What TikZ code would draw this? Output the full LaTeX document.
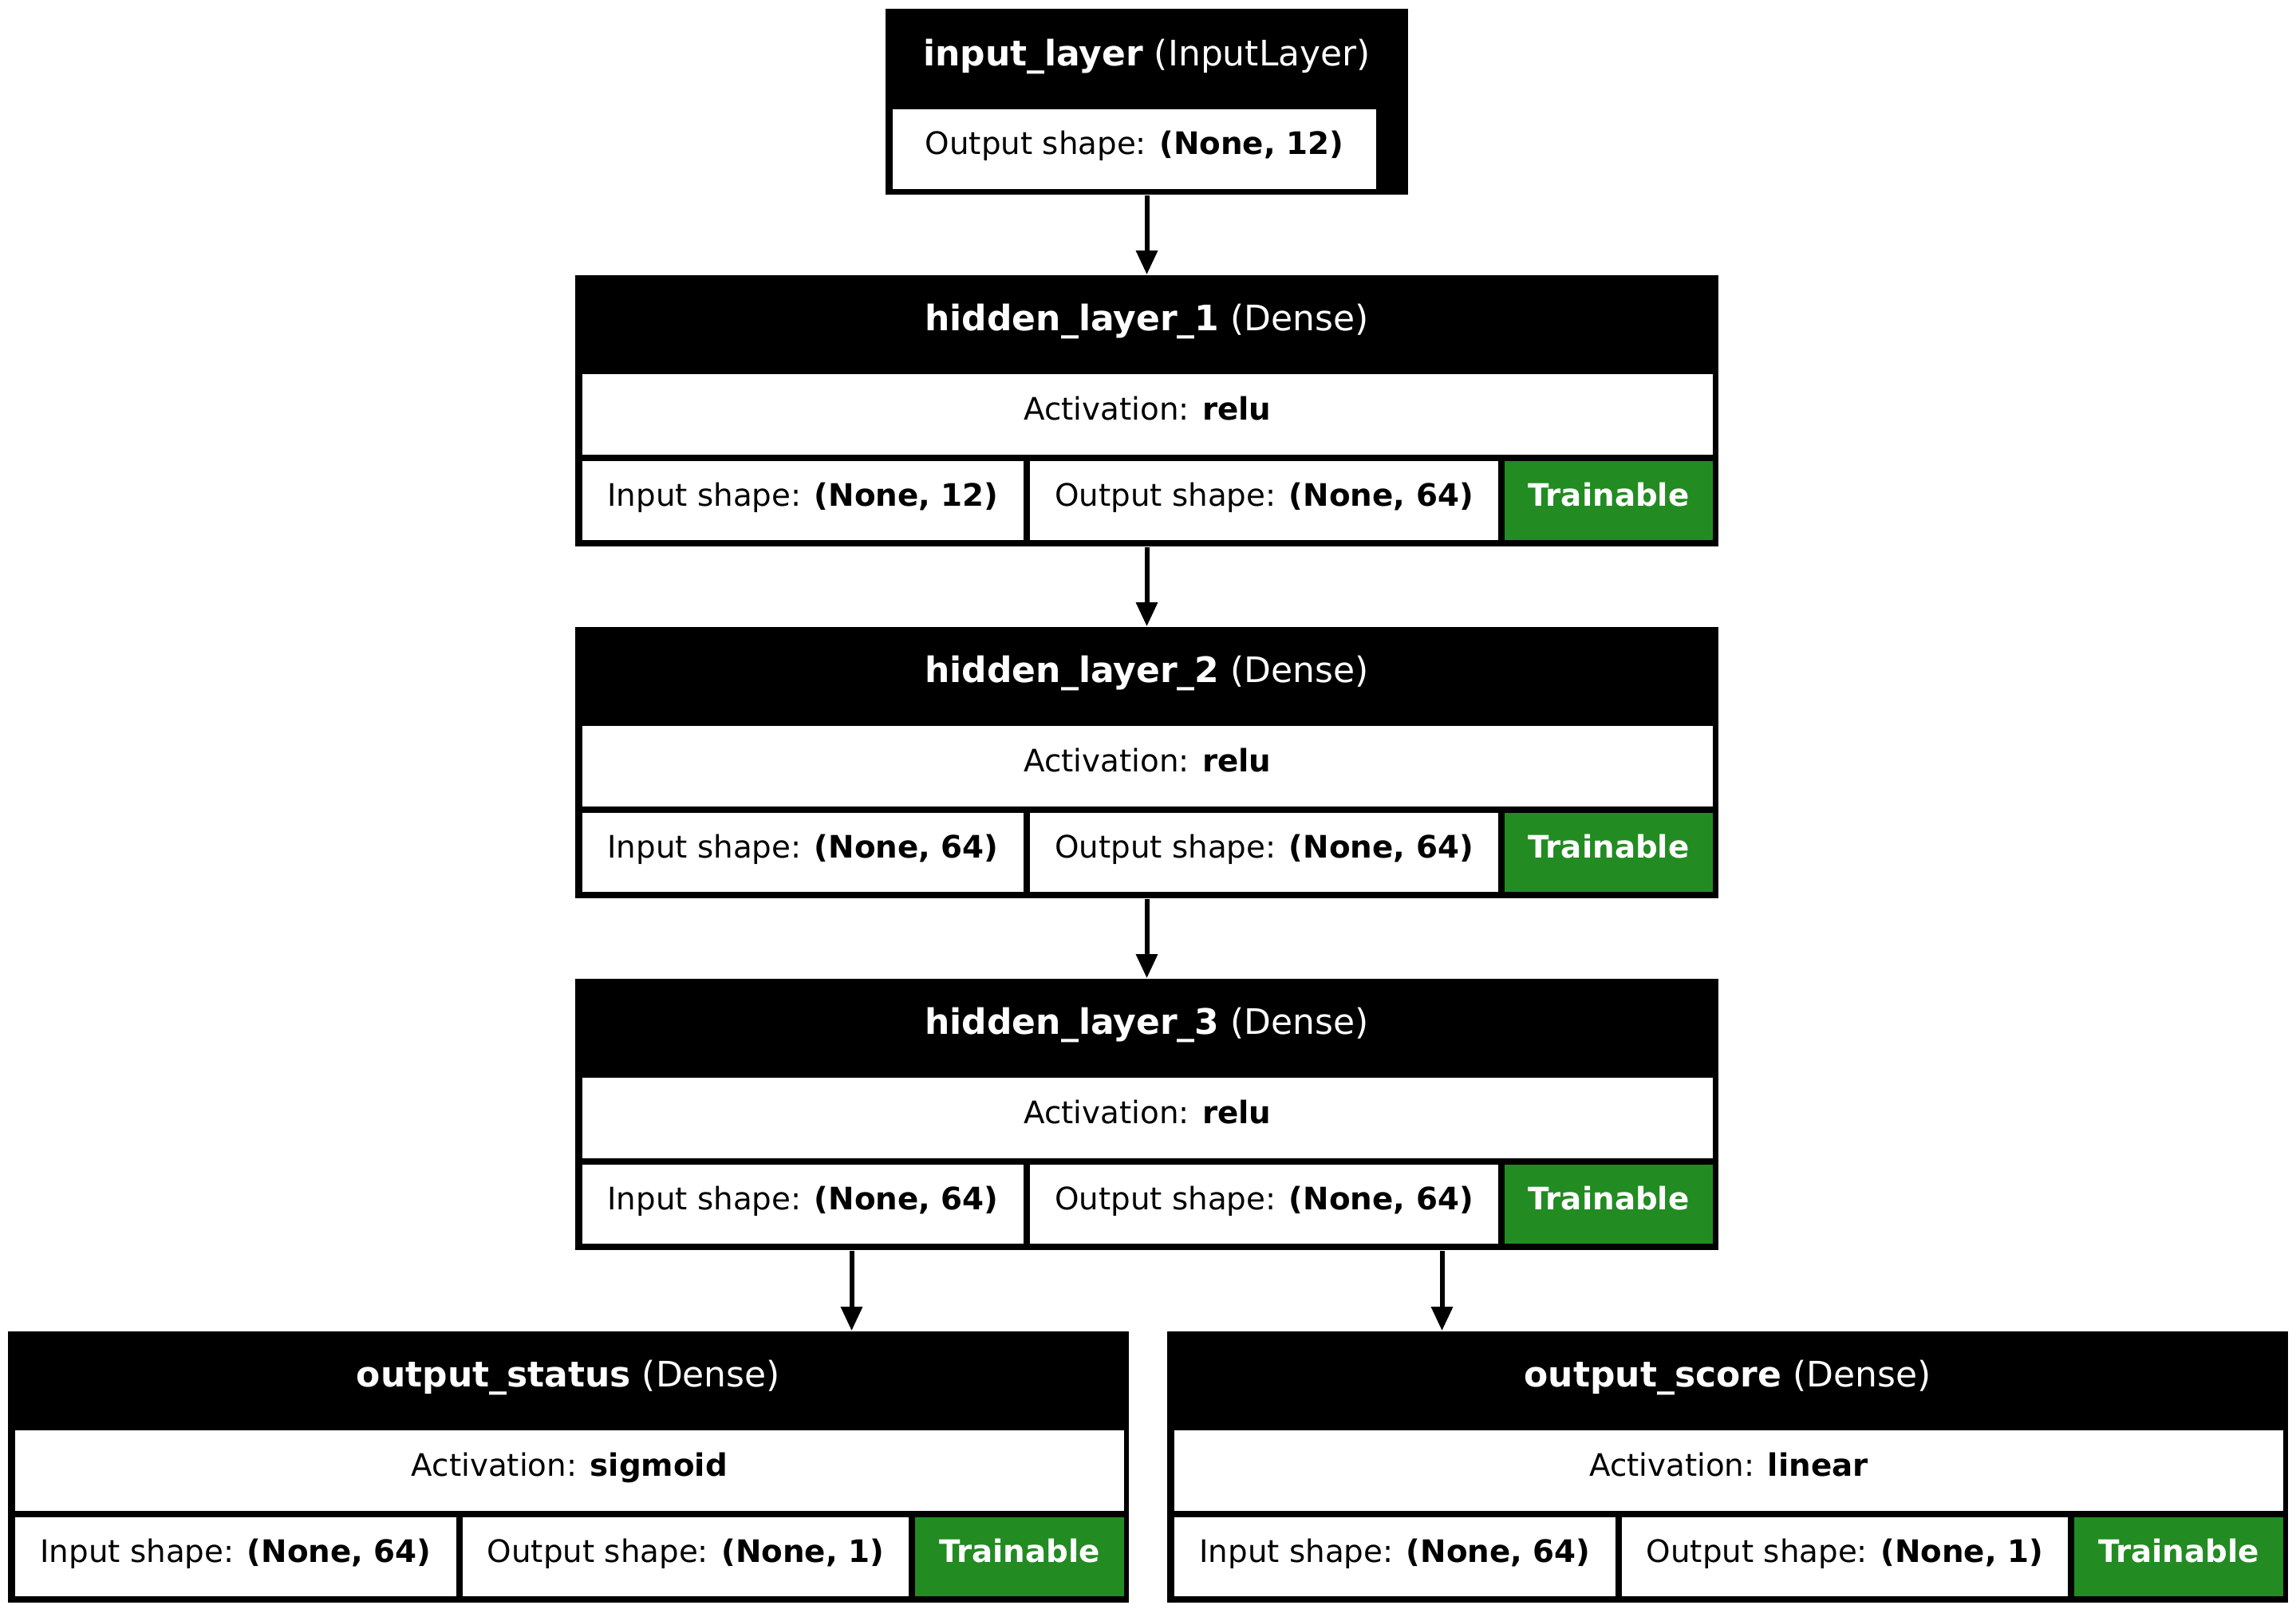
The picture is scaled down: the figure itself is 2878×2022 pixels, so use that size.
\documentclass[tikz,border=0pt]{standalone}
\usepackage{fontspec}
\setmainfont{DejaVu Sans}
\usepackage{tikz}
\usetikzlibrary{arrows.meta}
\definecolor{traingreen}{RGB}{34,139,34}

\begin{document}
\begin{tikzpicture}[x=0.25pt,y=-0.25pt,
    layerbox/.style={fill=black,draw=none,inner sep=0pt},
    headtxt/.style={text=white,inner sep=0pt,font=\fontsize{11}{13}\selectfont},
    celltxt/.style={inner sep=0pt,text height=.75em,text depth=.25em,font=\fontsize{9.7}{12}\selectfont},
    flow/.style={line width=1.5pt,-{Triangle[length=7.5pt,width=6.5pt]}}]
  \useasboundingbox (0,0) rectangle (2878,2022);

  % input layer
  \node[layerbox,minimum width=163.75pt,minimum height=58.25pt] (input) at (1437.5,127.5) {};
  \fill[white] (1119,137) rectangle (1725,237);
  \node[headtxt] (input-name) at (1437.5,71) {\textbf{input\_layer} (InputLayer)};
  \node[celltxt] (input-out) at (1422,184) {Output shape: \textbf{(None, 12)}};

  % hidden layers
  \foreach \k/\y/\ins in {1/345/12, 2/786/64, 3/1227/64} {
    \node[layerbox,minimum width=358.25pt,minimum height=85pt] (hid\k) at (1437.5,\y+170) {};
    \fill[white] (730,\y+124) rectangle (2147,\y+225);
    \fill[white] (730,\y+233) rectangle (1283,\y+332);
    \fill[white] (1291,\y+233) rectangle (1878,\y+332);
    \fill[traingreen] (1886,\y+233) rectangle (2147,\y+332);
    \node[headtxt] (hid\k-name) at (1437.5,\y+58) {\textbf{hidden\_layer\_\k} (Dense)};
    \node[celltxt] (hid\k-act) at (1438.5,\y+171) {Activation: \textbf{relu}};
    \node[celltxt] (hid\k-in) at (1006.5,\y+279.5) {Input shape: \textbf{(None, \ins)}};
    \node[celltxt] (hid\k-out) at (1584.5,\y+279.5) {Output shape: \textbf{(None, 64)}};
    \node[celltxt,text=white] (hid\k-tr) at (2016.5,\y+279.5) {\textbf{Trainable}};
  }

  % output layers
  \foreach \nm/\x/\ttl/\act in {stat/10/output\_status/sigmoid, score/1463/output\_score/linear} {
    \node[layerbox,minimum width=351.25pt,minimum height=85pt] (\nm) at (\x+702.5,1839) {};
    \fill[white] (\x+9,1793) rectangle (\x+1399,1894);
    \fill[white] (\x+9,1902) rectangle (\x+562,2001);
    \fill[white] (\x+570,1902) rectangle (\x+1129,2001);
    \fill[traingreen] (\x+1137,1902) rectangle (\x+1399,2001);
    \node[headtxt] (\nm-name) at (\x+702.5,1727) {\textbf{\ttl} (Dense)};
    \node[celltxt] (\nm-act) at (\x+704,1840) {Activation: \textbf{\act}};
    \node[celltxt] (\nm-in) at (\x+285.5,1948.5) {Input shape: \textbf{(None, 64)}};
    \node[celltxt] (\nm-out) at (\x+849.5,1948.5) {Output shape: \textbf{(None, 1)}};
    \node[celltxt,text=white] (\nm-tr) at (\x+1268,1948.5) {\textbf{Trainable}};
  }

  % connectors
  \draw[flow] (input) -- (hid1);
  \draw[flow] (hid1) -- (hid2);
  \draw[flow] (hid2) -- (hid3);
  \coordinate (tap1) at ([xshift=-92.5pt]hid3.south);
  \coordinate (tap2) at ([xshift=92.5pt]hid3.south);
  \draw[flow] (tap1) -- (tap1 |- stat.north);
  \draw[flow] (tap2) -- (tap2 |- score.north);
\end{tikzpicture}
\end{document}
